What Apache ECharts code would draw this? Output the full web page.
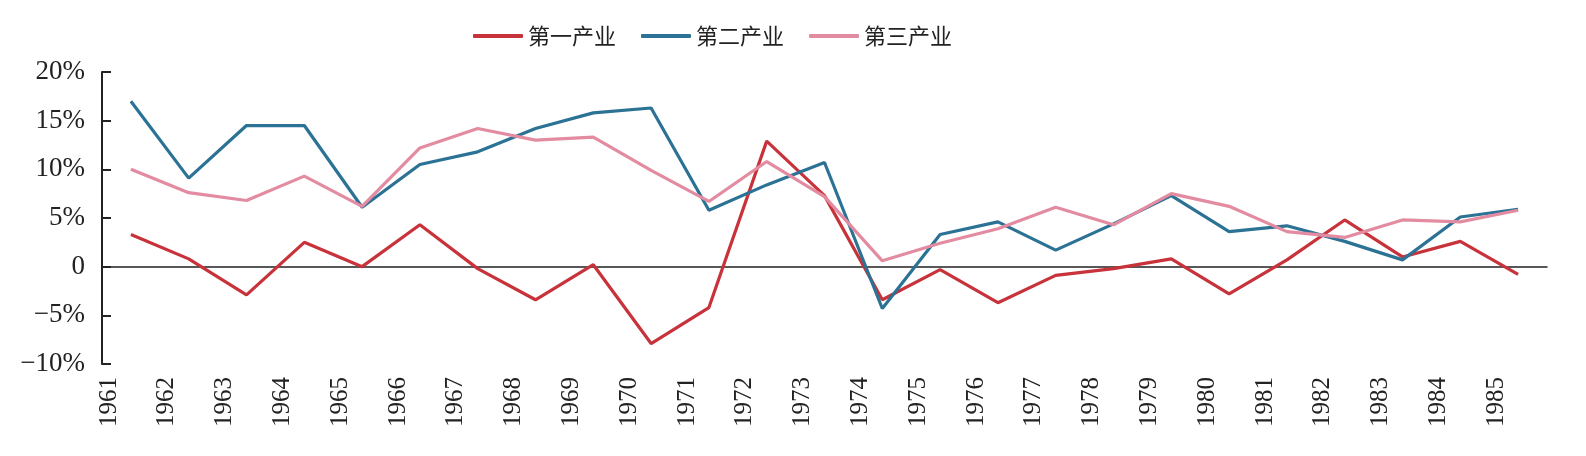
<!DOCTYPE html>
<html>
<head>
<meta charset="utf-8">
<script src="https://cdn.jsdelivr.net/npm/echarts@6/dist/echarts.min.js"></script>
<style>
  html, body { margin: 0; padding: 0; background: #fff; }
  #chart { width: 1586px; height: 456px; }
</style>
</head>
<body>
<div id="chart"></div>
<script>
// years 1961-1985, tick labels sit on the band edges
const years = ["1961", "1962", "1963", "1964", "1965", "1966", "1967", "1968", "1969", "1970",
  "1971", "1972", "1973", "1974", "1975", "1976", "1977", "1978", "1979", "1980",
  "1981", "1982", "1983", "1984", "1985"];
const tickLabels = years.concat([""]);

const primary = [3.3, 0.8, -2.9, 2.5, 0.0, 4.3, -0.2, -3.4, 0.2, -7.9,
  -4.2, 12.9, 7.3, -3.4, -0.3, -3.7, -0.9, -0.2, 0.8, -2.8,
  0.7, 4.8, 1.0, 2.6, -0.8];
const secondary = [17.0, 9.1, 14.5, 14.5, 6.1, 10.5, 11.8, 14.2, 15.8, 16.3,
  5.8, 8.4, 10.7, -4.3, 3.3, 4.6, 1.7, 4.4, 7.3, 3.6,
  4.2, 2.6, 0.7, 5.1, 5.9];
const tertiary = [10.0, 7.6, 6.8, 9.3, 6.2, 12.2, 14.2, 13.0, 13.3, 9.9,
  6.7, 10.8, 7.2, 0.6, 2.4, 3.9, 6.1, 4.3, 7.5, 6.2,
  3.6, 3.0, 4.8, 4.6, 5.8];

const colors = ["#c8323b", "#2b7295", "#e38ba1"];
const serif = "Liberation Serif";

const chart = echarts.init(document.getElementById("chart"));
chart.setOption({
  animation: false,
  color: colors,
  legend: {
    top: 25,
    left: 473,
    padding: 0,
    itemWidth: 50,
    itemHeight: 4,
    itemGap: 25,
    icon: "roundRect",
    textStyle: { fontFamily: "Noto Sans CJK SC", fontSize: 22, color: "#222" },
    data: ["第一产业", "第二产业", "第三产业"]
  },
  grid: { left: 102, right: 39, top: 72, bottom: 92 },
  xAxis: [
    {
      // label axis at the bottom
      type: "category",
      data: tickLabels,
      boundaryGap: false,
      position: "bottom",
      axisLine: { show: false, onZero: false },
      axisTick: { show: false },
      axisLabel: {
        rotate: 90,
        interval: 0,
        margin: 13,
        formatter: (v) => v ? "{yr|" + v + "}" : "",
        rich: {
          yr: { padding: [14, 0, 0, 0], fontFamily: serif, fontSize: 25, color: "#222" }
        }
      }
    },
    {
      // data axis, drawn on the zero line
      type: "category",
      data: years,
      boundaryGap: true,
      position: "bottom",
      axisLine: { onZero: true, lineStyle: { color: "#222", width: 1.5 } },
      axisTick: { inside: true, length: 6, interval: 0, lineStyle: { color: "#222", width: 1.5 } },
      axisLabel: { show: false }
    }
  ],
  yAxis: {
    type: "value",
    min: -10,
    max: 20,
    interval: 5,
    splitLine: { show: false },
    axisLine: { show: true, lineStyle: { color: "#222", width: 2 } },
    axisTick: { show: true, inside: true, length: 9, lineStyle: { color: "#222", width: 2 } },
    axisLabel: {
      margin: 17,
      fontFamily: serif,
      fontSize: 27,
      color: "#222",
      formatter: (v) => v === 0 ? "0" : (v < 0 ? "\u2212" + (-v) + "%" : v + "%")
    }
  },
  series: [
    { name: "第一产业", type: "line", xAxisIndex: 1, data: primary, symbol: "none", lineStyle: { width: 3.2 } },
    { name: "第二产业", type: "line", xAxisIndex: 1, data: secondary, symbol: "none", lineStyle: { width: 3.2 } },
    { name: "第三产业", type: "line", xAxisIndex: 1, data: tertiary, symbol: "none", lineStyle: { width: 3.2 } }
  ]
});
</script>
</body>
</html>
